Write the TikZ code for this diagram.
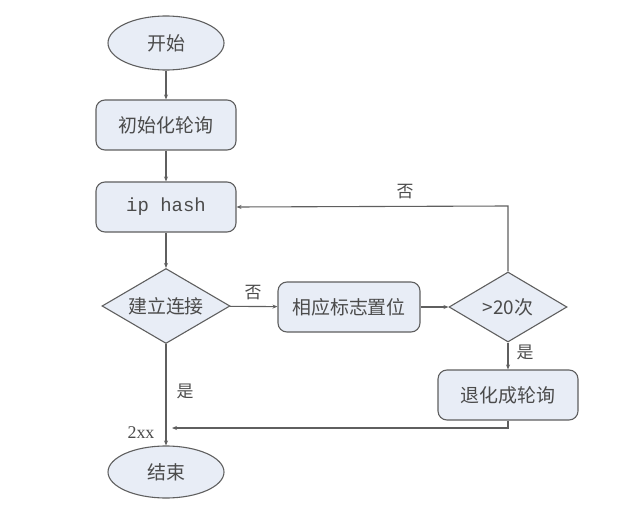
\documentclass[tikz,border=0pt]{standalone}
\usepackage{fontspec}
\newfontfamily\cjk{Noto Sans CJK SC}
\setmonofont{Liberation Mono}
\setmainfont{Liberation Serif}
\usetikzlibrary{shapes.geometric,arrows.meta}
\definecolor{boxfill}{RGB}{232,237,246}
\definecolor{edge}{RGB}{95,95,95}
\definecolor{txt}{RGB}{75,75,75}
\begin{document}
\begin{tikzpicture}[x=1bp,y=-1bp,
  every node/.style={text=txt, font=\cjk\fontsize{19}{21}\selectfont},
  base/.style={draw=edge, line width=1.1pt, fill=boxfill, inner sep=0pt},
  oval/.style={base, ellipse, minimum width=116bp, minimum height=54bp},
  rbox/.style={base, rounded corners=9bp, minimum width=140bp, minimum height=50bp},
  conn/.style={draw=edge, line width=1.1pt, -{Stealth[length=5bp,width=4bp]}},
  lab/.style={text=txt, font=\cjk\fontsize{17}{19}\selectfont}]
\useasboundingbox (0,0) rectangle (640,526);
\node[oval] (start) at (166,43) {开始};
\node[rbox] (init) at (166,125) {初始化轮询};
\node[rbox] (hash) at (166,207) {\ttfamily\fontsize{19}{21}\selectfont ip hash};
\node[base, diamond, minimum width=128bp, minimum height=75bp, shape aspect=1.7] (conn1) at (166,306) {建立连接};
\node[rbox, minimum width=142bp] (flag) at (349,307) {相应标志置位};
\node[base, diamond, minimum width=118bp, minimum height=70bp, shape aspect=1.7] (cnt) at (508,307) {>20次};
\node[rbox] (degr) at (508,395) {退化成轮询};
\node[oval, minimum height=52bp] (end) at (166,472) {结束};
\coordinate (c1) at (508,206);
\coordinate (c2) at (508,428);
\coordinate (c3) at (172,428);
\draw[conn] (start) -- (init);
\draw[conn] (init) -- (hash);
\draw[conn] (hash) -- (conn1);
\draw[conn] (conn1) -- (flag);
\draw[conn] (flag) -- (cnt);
\draw[conn] (cnt) -- (degr);
\draw[conn] (cnt.north) -- (c1) -- (hash.east);
\draw[conn] (conn1) -- (end);
\draw[conn] (degr.south) -- (c2) -- (c3);
\node[lab] (no1) at (253,293) {否};
\node[lab] (no2) at (405,192) {否};
\node[lab] (yes1) at (525,352) {是};
\node[lab] (yes2) at (185,391) {是};
\node[lab, font=\rmfamily\fontsize{18}{20}\selectfont] (two) at (141,433) {2xx};
\end{tikzpicture}
\end{document}
